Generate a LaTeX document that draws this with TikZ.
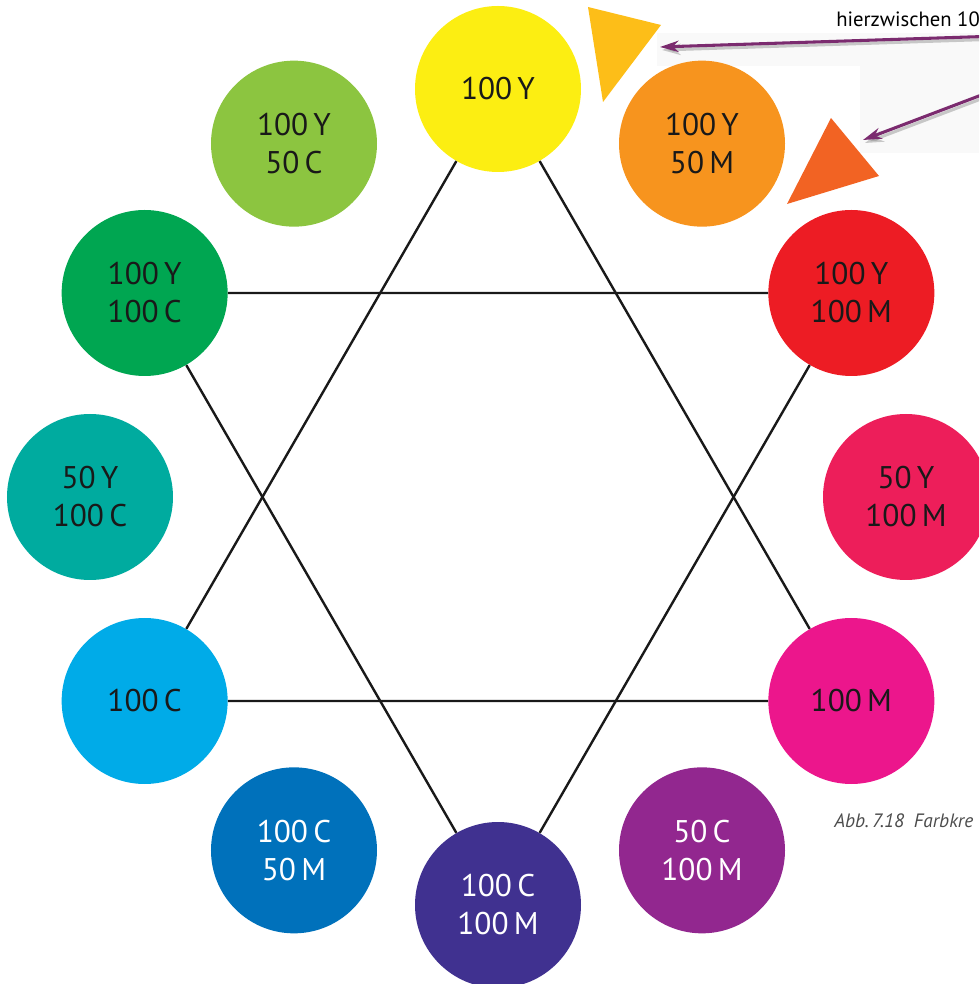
\documentclass[tikz,border=0pt]{standalone}
\usepackage{fontspec}
\setmainfont{PT Sans}
\usepackage{xcolor}
\definecolor{colGelb}{HTML}{FCEE12}
\definecolor{colOrange}{HTML}{F7941E}
\definecolor{colRot}{HTML}{ED1C24}
\definecolor{colPink}{HTML}{ED1E5A}
\definecolor{colMagenta}{HTML}{EC168C}
\definecolor{colLila}{HTML}{92278F}
\definecolor{colViolett}{HTML}{403190}
\definecolor{colBlau}{HTML}{0071BB}
\definecolor{colCyan}{HTML}{00ABE8}
\definecolor{colTuerkis}{HTML}{00AB9F}
\definecolor{colGruen}{HTML}{00A651}
\definecolor{colHellgruen}{HTML}{8CC540}
\definecolor{colGold}{HTML}{FDBE18}
\definecolor{colOrangerot}{HTML}{F26323}
\definecolor{colPfeil}{HTML}{7B2B6F}
\usetikzlibrary{arrows.meta}

\begin{document}
\begin{tikzpicture}[x=0.75pt, y=0.75pt,
    kreis/.style={circle, minimum size=124.5pt, inner sep=0pt, align=center,
                  text=black!90, font=\fontsize{23.5}{28.5}\selectfont},
    hell/.style={text=white},
    linie/.style={line width=1.8pt, black!90},
    pfeil/.style={-{Stealth[length=14pt, width=8.5pt]}, line width=2.3pt, colPfeil},
    pfeilschatten/.style={-{Stealth[length=14pt, width=8.5pt]}, line width=2.3pt,
                          black!45, opacity=0.45}]
    \useasboundingbox (-498,-487) rectangle (481,497);
    \clip (-498,-487) rectangle (481,497);
    % Hintergrund der Notiz
    \fill[black!2.5] (159,464) rectangle (481,431);
    \fill[black!2.5] (362,454) rectangle (481,344);
    % Farbkreis
    \node[kreis, fill=colGelb] (gelb) at (90:408) {100\,Y};
    \node[kreis, fill=colOrange] (orange) at (60:408) {100\,Y\\50\,M};
    \node[kreis, fill=colRot] (rot) at (30:408) {100\,Y\\100\,M};
    \node[kreis, fill=colPink] (pink) at (0:408) {50\,Y\\100\,M};
    \node[kreis, fill=colMagenta] (magenta) at (-30:408) {100\,M};
    \node[kreis, fill=colLila, hell] (lila) at (-60:408) {50\,C\\100\,M};
    \node[kreis, fill=colViolett, hell] (violett) at (-90:408) {100\,C\\100\,M};
    \node[kreis, fill=colBlau, hell] (blau) at (-120:408) {100\,C\\50\,M};
    \node[kreis, fill=colCyan] (cyan) at (-150:408) {100\,C};
    \node[kreis, fill=colTuerkis] (tuerkis) at (180:408) {50\,Y\\100\,C};
    \node[kreis, fill=colGruen] (gruen) at (150:408) {100\,Y\\100\,C};
    \node[kreis, fill=colHellgruen] (hellgruen) at (120:408) {100\,Y\\50\,C};
    % Dreiecke
    \draw[linie] (gelb) -- (cyan) -- (magenta) -- (gelb);
    \draw[linie] (gruen) -- (rot) -- (violett) -- (gruen);
    % Zwischentöne
    \fill[colGold] (90,490) -- (163,472) -- (105,395) -- cycle;
    \fill[colOrangerot] (333,379) -- (381,321) -- (289,293) -- cycle;
    % Notiz mit Pfeilen
    \node[anchor=base west, font=\fontsize{15.5}{19}\selectfont, inner sep=0pt]
          (notiz) at (338,470) {hierzwischen 10};
    \coordinate (startA) at (502,461);
    \coordinate (spitzeA) at (162,450);
    \coordinate (startB) at (502,409);
    \coordinate (spitzeB) at (365,357);
    \draw[pfeilschatten] ([shift={(2,-3)}]startA) -- ([shift={(2,-3)}]spitzeA);
    \draw[pfeilschatten] ([shift={(2,-3)}]startB) -- ([shift={(2,-3)}]spitzeB);
    \draw[pfeil] (startA) -- (spitzeA);
    \draw[pfeil] (startB) -- (spitzeB);
    % Bildunterschrift
    \node[anchor=base west, font=\fontsize{14.5}{17}\selectfont\itshape,
          text=black!70, inner sep=0pt] (caption) at (336,-330)
          {Abb.\,7.18\enspace Farbkre};
\end{tikzpicture}
\end{document}
